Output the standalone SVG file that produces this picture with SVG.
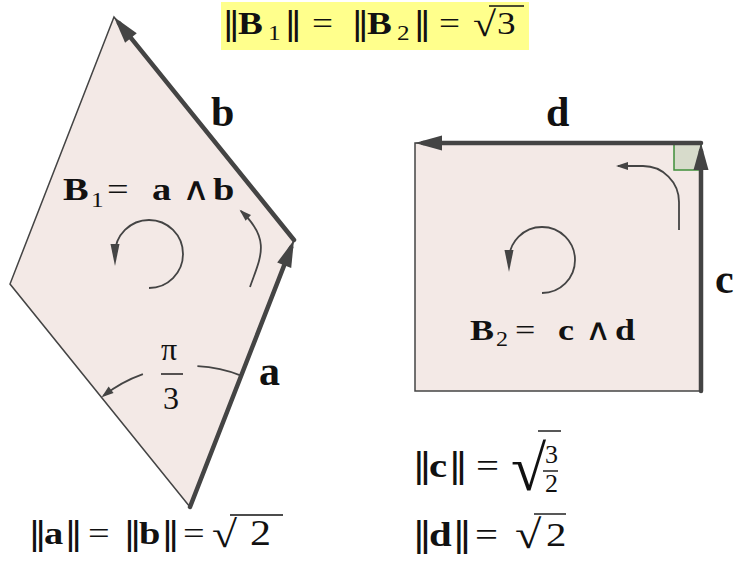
<svg xmlns="http://www.w3.org/2000/svg" width="737" height="562" viewBox="0 0 737 562">
<style>
.face{fill:#f3e9e6;stroke:#444;stroke-width:1.5;stroke-linejoin:miter}
.vec{stroke:#444;stroke-width:4.5;fill:none;stroke-linecap:round}
.thin{stroke:#444;stroke-width:1.8;fill:none}
.t{font-family:"Liberation Serif","DejaVu Serif",serif;fill:#111}
.dv{font-family:"DejaVu Serif",serif;font-weight:normal}
.bf{font-weight:bold}
.lbl{font-family:"Liberation Serif","DejaVu Serif",serif;font-weight:bold;font-size:42px;fill:#111}
.bar{stroke:#111;stroke-width:1.4}
</style>
<defs>
<marker id="big" markerUnits="userSpaceOnUse" markerWidth="40" markerHeight="40" refX="0" refY="0" orient="auto" overflow="visible">
<path d="M8,0 L-19,-7.5 L-19,7.5 Z" fill="#444"/>
</marker>
<marker id="mid" markerUnits="userSpaceOnUse" markerWidth="40" markerHeight="40" refX="0" refY="0" orient="auto" overflow="visible">
<path d="M12,0 L-10,-4.5 L-10,4.5 Z" fill="#444"/>
</marker>
<marker id="small" markerUnits="userSpaceOnUse" markerWidth="30" markerHeight="30" refX="0" refY="0" orient="auto" overflow="visible">
<path d="M2,0 L-10,-4 L-10,4 Z" fill="#444"/>
</marker>
</defs>

<g id="title">
<rect x="221" y="2" width="308" height="48" fill="#ffff8c"/>
<text class="t" font-size="31" transform="scale(1.2,1)"><tspan class="dv" x="185" y="34">‖</tspan><tspan class="bf" x="198.3" y="34">B</tspan><tspan x="223.3" y="40" font-size="21">1</tspan><tspan class="dv" x="236.7" y="34">‖</tspan><tspan x="260" y="34">=</tspan><tspan class="dv" x="292.5" y="34">‖</tspan><tspan class="bf" x="305.8" y="34">B</tspan><tspan x="330.8" y="40" font-size="21">2</tspan><tspan class="dv" x="344.2" y="34">‖</tspan><tspan x="365.8" y="34">=</tspan><tspan x="394.2" y="36" font-size="35">√</tspan><tspan x="414.2" y="34">3</tspan></text>
<line class="bar" x1="489" y1="6" x2="524" y2="6"/>
</g>

<g id="bivector-B1">
<polygon class="face" points="190,507 294,240 114,17 10,284"/>
<text class="t" font-size="32" transform="scale(1.2,1)"><tspan class="bf" x="52.5" y="200">B</tspan><tspan x="75.8" y="207" font-size="21">1</tspan><tspan x="89.2" y="200">=</tspan><tspan class="bf" x="126.7" y="200">a</tspan><tspan x="151.7" y="200">∧</tspan><tspan class="bf" x="177.5" y="200">b</tspan></text>
</g>

<g id="bivector-B2">
<rect class="face" x="415" y="143" width="286" height="248"/>
<rect x="674" y="143" width="27" height="27" fill="#d7dbcb" stroke="#3f8f3a" stroke-width="1.5"/>
<text class="t" font-size="30" transform="scale(1.2,1)"><tspan class="bf" x="391.7" y="340">B</tspan><tspan x="413.3" y="346" font-size="20">2</tspan><tspan x="429.2" y="340">=</tspan><tspan class="bf" x="465" y="340">c</tspan><tspan x="487.5" y="340">∧</tspan><tspan class="bf" x="512.5" y="340">d</tspan></text>
</g>

<g id="connectors">
<line class="vec" x1="190" y1="507" x2="291.1" y2="247.5" marker-end="url(#big)"/>
<line class="vec" x1="294" y1="240" x2="119" y2="23.2" marker-end="url(#big)"/>
<line class="vec" x1="701" y1="391" x2="701" y2="151" marker-end="url(#big)"/>
<line class="vec" x1="701" y1="143" x2="423" y2="143" marker-end="url(#big)"/>
<path class="thin" d="M149,288 A34,34 0 1 0 115,254" marker-end="url(#mid)"/>
<path class="thin" d="M542,293 A33,33 0 1 0 509,260" marker-end="url(#mid)"/>
<path class="thin" d="M250,287 C260,258 272,240 241,211" marker-end="url(#small)"/>
<path class="thin" d="M679,230 L679,202 A36,36 0 0 0 643,166 L618,166" marker-end="url(#small)"/>
<path class="thin" d="M241.7,375.8 A141,141 0 0 0 197.4,366.2"/>
<path class="thin" d="M142.9,374.1 A141,141 0 0 0 103.2,395.9" marker-end="url(#small)"/>
</g>

<g id="labels">
<text class="lbl" x="211" y="126">b</text>
<text class="lbl" x="259" y="385">a</text>
<text class="lbl" x="546" y="126">d</text>
<text class="lbl" x="715" y="293">c</text>
<text class="t" font-size="32" x="161" y="360">π</text>
<line class="bar" x1="161" y1="374" x2="183" y2="374"/>
<text class="t" font-size="32" x="163" y="409">3</text>
</g>

<g id="norms">
<text class="t" font-size="32" transform="scale(1.2,1)"><tspan class="dv" x="23.3" y="544">‖</tspan><tspan class="bf" x="36.7" y="544">a</tspan><tspan class="dv" x="53.3" y="544">‖</tspan><tspan x="73.3" y="544">=</tspan><tspan class="dv" x="102.5" y="544">‖</tspan><tspan class="bf" x="115.8" y="544">b</tspan><tspan class="dv" x="134.2" y="544">‖</tspan><tspan x="152.5" y="544">=</tspan><tspan x="176.7" y="547" font-size="38">√</tspan><tspan x="208.3" y="545" font-size="35">2</tspan></text>
<line class="bar" x1="230" y1="515" x2="283" y2="515"/>
<text class="t" font-size="34" transform="scale(1.2,1)"><tspan class="dv" x="343.3" y="477">‖</tspan><tspan class="bf" x="357.5" y="477">c</tspan><tspan class="dv" x="373.3" y="477">‖</tspan><tspan x="396.7" y="477">=</tspan></text>
<text class="t" font-size="64" x="511" y="490">√</text>
<line class="bar" x1="538" y1="431" x2="561" y2="431"/>
<text class="t" font-size="26" x="545" y="463">3</text>
<line class="bar" x1="543" y1="471" x2="558" y2="471"/>
<text class="t" font-size="26" x="545" y="492">2</text>
<text class="t" font-size="34" transform="scale(1.2,1)"><tspan class="dv" x="343.3" y="546">‖</tspan><tspan class="bf" x="357.5" y="546">d</tspan><tspan class="dv" x="376.7" y="546">‖</tspan><tspan x="395.8" y="546">=</tspan><tspan x="429.2" y="548" font-size="40">√</tspan><tspan x="455" y="546">2</tspan></text>
<line class="bar" x1="534" y1="514" x2="566" y2="514"/>
</g>
</svg>
